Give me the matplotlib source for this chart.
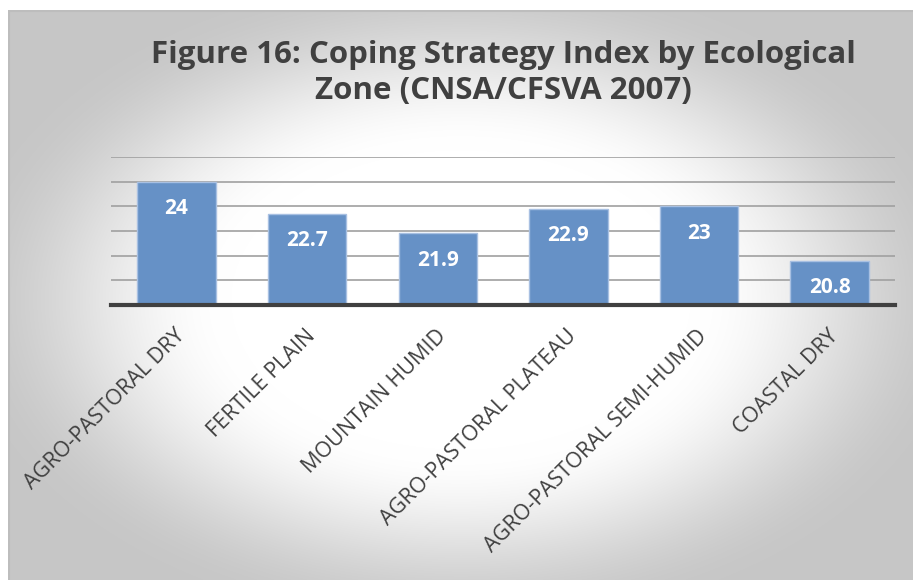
import numpy as np
import matplotlib
matplotlib.use("Agg")
import matplotlib.pyplot as plt
import matplotlib.transforms as mtransforms

categories = ["AGRO-PASTORAL DRY", "FERTILE PLAIN", "MOUNTAIN HUMID",
              "AGRO-PASTORAL PLATEAU", "AGRO-PASTORAL SEMI-HUMID", "COASTAL DRY"]
values = [24, 22.7, 21.9, 22.9, 23, 20.8]
value_labels = ["24", "22.7", "21.9", "22.9", "23", "20.8"]
title = "Figure 16: Coping Strategy Index by Ecological\nZone (CNSA/CFSVA 2007)"

W, H = 913, 580
fig = plt.figure(figsize=(W / 100, H / 100), dpi=100)
fig.patch.set_facecolor("white")

# background panel with radial gradient
px0, py0 = 8, 10
bg = fig.add_axes([px0 / W, 0, 1 - px0 / W, 1 - py0 / H])
bw, bh = W - px0, H - py0
yy, xx = np.mgrid[0:bh, 0:bw]
cx, cy = 460 - px0, 300 - py0
d = np.sqrt(((xx - cx) / 460.0) ** 2 + ((yy - cy) / 300.0) ** 2)
t = np.clip((d - 0.5) / 0.6, 0, 1)
t = t * t * (3 - 2 * t)
white, gray = 1.0, 0.78
val = white - (white - gray) * t
img = np.dstack([val, val, val])
bg.imshow(img, aspect="auto", interpolation="bilinear", extent=[0, bw, bh, 0])
bg.set_xlim(0, bw)
bg.set_ylim(bh, 0)
bg.axis("off")
bg.plot([0.5, 0.5], [0, bh], color="#bdbdbd", lw=1.5)
bg.plot([0, bw], [0.5, 0.5], color="#bdbdbd", lw=1.5)

# main axes
left, right = 111.2, 895.0
top, base = 157.0, 305.0
ax = fig.add_axes([left / W, (H - base) / H, (right - left) / W, (base - top) / H])
ax.patch.set_alpha(0)
x = np.arange(len(categories))
ax.bar(x, values, width=0.6, bottom=0, color="#6691c6", edgecolor="#a8c0e2",
       linewidth=1.0, zorder=3)
ax.set_ylim(19, 25)
ax.set_xlim(-0.5, len(categories) - 0.5)
ax.set_yticks(np.arange(19, 26, 1))
ax.yaxis.grid(True, color="#a0a0a0", linewidth=1.2, zorder=0)
ax.tick_params(axis="y", left=False, labelleft=False)
for s in ["top", "right", "left"]:
    ax.spines[s].set_visible(False)
ax.spines["bottom"].set_color("#404040")
ax.spines["bottom"].set_linewidth(3)
ax.spines["bottom"].set_zorder(4)
ax.set_xticks(x)
ax.set_xticklabels(categories, rotation=45, ha="right", va="center",
                   rotation_mode="anchor", fontsize=15.5, color="#404040",
                   family="Open Sans")
ax.tick_params(axis="x", length=0, pad=20)
shift = mtransforms.ScaledTranslation(5 / 100, 0, fig.dpi_scale_trans)
for lbl in ax.get_xticklabels():
    lbl.set_transform(lbl.get_transform() + shift)

for xi, v, lab in zip(x, values, value_labels):
    ax.annotate(lab, (xi, v), xytext=(0, -19.5), textcoords="offset points",
                ha="center", va="center", color="white", fontsize=15,
                fontweight="bold", family="Open Sans", zorder=5)

fig.text(503 / W, 1 - 73 / H, title, ha="center", va="center", fontsize=22.5,
         fontweight="bold", color="#404040", family="Open Sans", linespacing=1.3)

fig.savefig("out.png", dpi=100)
